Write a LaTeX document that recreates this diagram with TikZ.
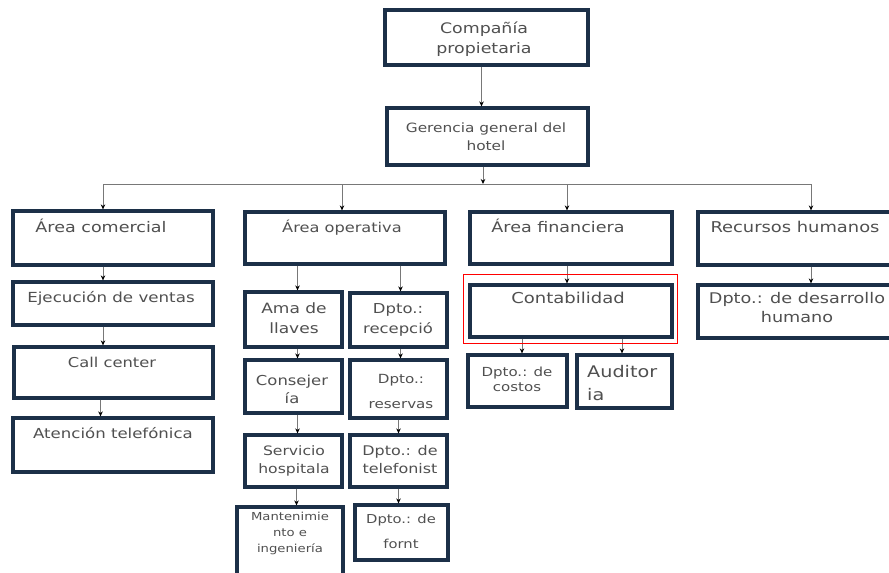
\documentclass[tikz,border=0pt]{standalone}
\usepackage{fontspec}
\setmainfont{DejaVu Sans}[FakeStretch=1.2]
\usetikzlibrary{arrows.meta}

\definecolor{boxblue}{RGB}{28,48,72}
\definecolor{txtgray}{RGB}{80,80,80}
\definecolor{linegray}{RGB}{120,120,120}

\newcommand\fsz[2]{\fontsize{#1pt}{#2pt}\selectfont}

\tikzset{
  orgbox/.style={draw=boxblue, line width=3.2pt, fill=white, inner sep=0pt},
  orgtxt/.style={anchor=base, inner sep=0pt, align=center, text=txtgray},
  link/.style={draw=linegray, line width=0.8pt, -{Stealth[length=5pt,width=4.5pt,color=black]}},
  hubline/.style={draw=linegray, line width=0.9pt},
}

\begin{document}
\begin{tikzpicture}[x=1pt,y=-1pt]
  \useasboundingbox (0,0) rectangle (889,573);
  \fill[white] (0,0) rectangle (889,573);
  \clip (0,0) rectangle (889,573);

  % Top levels
  \node[orgbox, minimum width=203pt, minimum height=55pt] (prop) at (486.5,37.5) {};
  \node[orgbox, minimum width=201pt, minimum height=57pt] (ger) at (487.5,136.5) {};

  % Areas
  \node[orgbox, minimum width=200pt, minimum height=54pt] (comercial) at (113,238) {};
  \node[orgbox, minimum width=200pt, minimum height=52pt] (operativa) at (345,238) {};
  \node[orgbox, minimum width=202pt, minimum height=52pt] (financiera) at (571,238) {};
  \node[orgbox, minimum width=202pt, minimum height=53pt] (rrhh) at (799,238.5) {};

  % Area comercial
  \node[orgbox, minimum width=200pt, minimum height=43pt] (ventas) at (113,303.5) {};
  \node[orgbox, minimum width=199pt, minimum height=51pt] (call) at (113.5,372.5) {};
  \node[orgbox, minimum width=200pt, minimum height=54pt] (atencion) at (113,445) {};

  % Area operativa
  \node[orgbox, minimum width=97pt, minimum height=55pt] (ama) at (293.5,319.5) {};
  \node[orgbox, minimum width=97pt, minimum height=54pt] (recep) at (398.5,320) {};
  \node[orgbox, minimum width=97pt, minimum height=53pt] (conse) at (293.5,386.5) {};
  \node[orgbox, minimum width=97pt, minimum height=58pt] (reser) at (398.5,389) {};
  \node[orgbox, minimum width=97pt, minimum height=52pt] (servi) at (293.5,461) {};
  \node[orgbox, minimum width=97pt, minimum height=52pt] (telef) at (398.5,461) {};
  \node[orgbox, minimum width=106pt, minimum height=78pt] (mant) at (290,546) {};
  \node[orgbox, minimum width=93pt, minimum height=55pt] (fornt) at (401.5,532.5) {};

  % Area financiera
  \node[orgbox, minimum width=202pt, minimum height=52pt] (contab) at (571,311) {};
  \node[orgbox, minimum width=99pt, minimum height=52pt] (costos) at (517.5,381) {};
  \node[orgbox, minimum width=95pt, minimum height=53pt] (audit) at (624.5,381.5) {};

  % Recursos humanos
  \node[orgbox, minimum width=202pt, minimum height=53pt] (desarrollo) at (799,311.5) {};

  % Texts (anchor at baseline of last line)
  \node[orgtxt, font=\fsz{14.5}{20}] (t-prop) at (484,53) {Compañía\\propietaria};
  \node[orgtxt, font=\fsz{12.8}{18}] (t-ger) at (486,150) {Gerencia general del\\hotel};
  \node[orgtxt, font=\fsz{14.6}{20}] (t-comercial) at (101,232) {Área comercial};
  \node[orgtxt, font=\fsz{13.9}{20}] (t-ventas) at (111,302) {Ejecución de ventas};
  \node[orgtxt, font=\fsz{13.6}{20}] (t-call) at (112,367) {Call center};
  \node[orgtxt, font=\fsz{13.8}{20}] (t-atencion) at (113,438) {Atención telefónica};
  \node[orgtxt, font=\fsz{13.5}{20}] (t-operativa) at (342,232) {Área operativa};
  \node[orgtxt, font=\fsz{14.2}{20}] (t-ama) at (294,333) {Ama de\\llaves};
  \node[orgtxt, font=\fsz{13.7}{20}] (t-recep) at (398,333) {Dpto.:\\recepció};
  \node[orgtxt, font=\fsz{13.7}{18}] (t-conse) at (292,403) {Consejer\\ía};
  \node[orgtxt, font=\fsz{12.6}{25}] (t-reser) at (401,408) {Dpto.:\\reservas};
  \node[orgtxt, font=\fsz{13}{18}] (t-servi) at (294,473) {Servicio\\hospitala};
  \node[orgtxt, font=\fsz{13.3}{18}] (t-telef) at (400,473) {Dpto.: de\\telefonist};
  \node[orgtxt, font=\fsz{11}{16}] (t-mant) at (290,552) {Mantenimie\\nto e\\ingeniería};
  \node[orgtxt, font=\fsz{12.3}{25}] (t-fornt) at (401,548) {Dpto.: de\\fornt};
  \node[orgtxt, font=\fsz{14.6}{20}] (t-financiera) at (558,232) {Área financiera};
  \node[orgtxt, font=\fsz{15}{20}] (t-contab) at (568,303) {Contabilidad};
  \node[orgtxt, font=\fsz{12.5}{15}] (t-costos) at (517,391) {Dpto.: de\\costos};
  \node[orgtxt, font=\fsz{16}{23}, anchor=base west, align=left] (t-audit) at (587,400) {Auditor\\ia};
  \node[orgtxt, font=\fsz{14.9}{20}] (t-rrhh) at (795,232) {Recursos humanos};
  \node[orgtxt, font=\fsz{14.7}{19}] (t-desarrollo) at (797,322) {Dpto.: de desarrollo\\humano};

  % Connectors
  \coordinate (hub) at (483,184);
  \draw[link] ([xshift=-5pt]prop.south) -- ([xshift=-5pt]prop.south |- ger.north);
  \draw[link] ([xshift=-4.5pt]ger.south) -- (hub);
  \draw[hubline] ([xshift=-10pt]comercial.north |- hub) -- ([xshift=12pt]rrhh.north |- hub);
  \draw[link] ([xshift=-10pt]comercial.north |- hub) -- ([xshift=-10pt]comercial.north);
  \draw[link] ([xshift=-3pt]operativa.north |- hub) -- ([xshift=-3pt]operativa.north);
  \draw[link] ([xshift=-4pt]financiera.north |- hub) -- ([xshift=-4pt]financiera.north);
  \draw[link] ([xshift=12pt]rrhh.north |- hub) -- ([xshift=12pt]rrhh.north);

  \draw[link] ([xshift=-10pt]comercial.south) -- ([xshift=-10pt]ventas.north);
  \draw[link] ([xshift=-10pt]ventas.south) -- ([xshift=-10pt]ventas.south |- call.north);
  \draw[link] ([xshift=-13pt]call.south) -- ([xshift=-13pt]call.south |- atencion.north);

  \draw[link] ([xshift=4pt]ama.north |- operativa.south) -- ([xshift=4pt]ama.north);
  \draw[link] ([xshift=2pt]recep.north |- operativa.south) -- ([xshift=2pt]recep.north);
  \draw[link] ([xshift=4pt]ama.south) -- ([xshift=4pt]conse.north);
  \draw[link] ([xshift=4pt]conse.south) -- ([xshift=4pt]servi.north);
  \draw[link] ([xshift=3pt]servi.south) -- ([xshift=3pt]servi.south |- mant.north);
  \draw[link] ([xshift=2pt]recep.south) -- ([xshift=2pt]reser.north);
  \draw[link] (reser.south) -- (telef.north);
  \draw[link] (telef.south) -- (telef.south |- fornt.north);

  \draw[link] ([xshift=-4pt]financiera.south) -- ([xshift=-4pt]contab.north);
  \draw[link] ([xshift=4.5pt]costos.north |- contab.south) -- ([xshift=4.5pt]costos.north);
  \draw[link] ([xshift=-2.5pt]audit.north |- contab.south) -- ([xshift=-2.5pt]audit.north);

  \draw[link] ([xshift=12pt]rrhh.south) -- ([xshift=12pt]desarrollo.north);

  % Highlight
  \draw[red, line width=1.5pt] ([shift={(-5pt,9pt)}]contab.north west) rectangle ([shift={(4pt,-5pt)}]contab.south east);
\end{tikzpicture}
\end{document}
